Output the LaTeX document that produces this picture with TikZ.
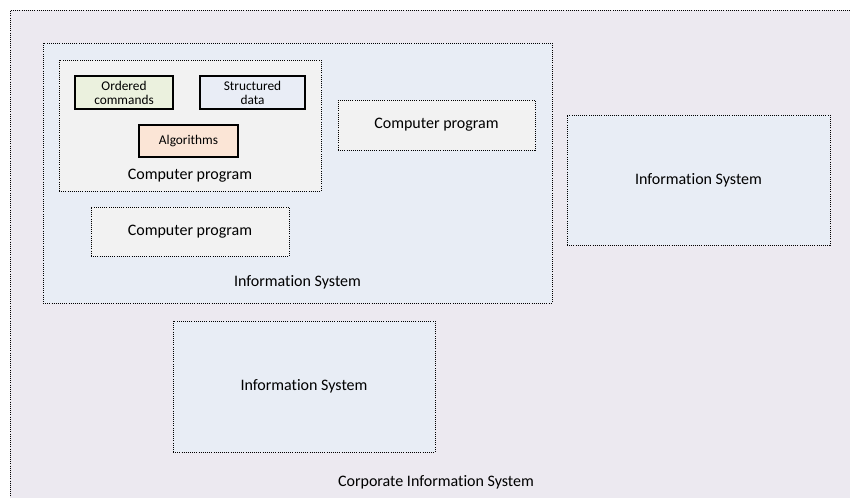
\documentclass[tikz,border=0pt]{standalone}
\usepackage{fontspec}
\setmainfont[Ligatures=NoCommon]{Carlito}
\usetikzlibrary{positioning}
\definecolor{corpFill}{RGB}{236,233,240}
\definecolor{isFill}{RGB}{232,237,245}
\definecolor{progFill}{RGB}{242,242,242}
\definecolor{cmdFill}{RGB}{235,241,222}
\definecolor{dataFill}{RGB}{233,237,246}
\definecolor{algFill}{RGB}{251,229,214}

\begin{document}
\begin{tikzpicture}[x=0.75pt,y=-0.75pt,font=\fontsize{12}{14}\selectfont,every node/.style=rectangle,
    container/.style={draw, densely dotted, line width=0.6pt, inner sep=0pt},
    corporate/.style={container, fill=corpFill},
    infoSys/.style={container, fill=isFill},
    program/.style={container, fill=progFill},
    element/.style={draw, solid, line width=1.1pt, inner sep=0pt, align=center, font=\fontsize{10}{10.5}\selectfont},
    ]
    \useasboundingbox (0,0) rectangle (850,497);
    \clip (0,0) rectangle (850,497);

    \node[corporate, minimum width=860*0.75pt, minimum height=500*0.75pt, anchor=north west] (corp) at (10,10) {};
    \node[infoSys, minimum width=509*0.75pt, minimum height=260*0.75pt] (isMain) at (297.5,173) {};
    \node[program, minimum width=262*0.75pt, minimum height=131*0.75pt] (cpMain) at (190,125.5) {};

    \node[element, fill=cmdFill, minimum width=98*0.75pt, minimum height=33*0.75pt] (commands) at (124,92.5) {Ordered\\commands};
    \node[element, fill=dataFill, minimum width=105*0.75pt, minimum height=33*0.75pt] (data) at (252.5,92.5) {Structured\\data};
    \node[element, fill=algFill, minimum width=99*0.75pt, minimum height=32*0.75pt] (algorithms) at (188.5,141) {Algorithms};
    \node[above=3pt of cpMain.south] (cpMainLabel) {Computer program};

    \node[program, minimum width=197*0.75pt, minimum height=50*0.75pt] (cpRight) at (436.5,125) {Computer program};
    \node[program, minimum width=198*0.75pt, minimum height=49*0.75pt] (cpLow) at (190,231.5) {Computer program};
    \node[above=7pt of isMain.south] (isMainLabel) {Information System};

    \node[infoSys, minimum width=263*0.75pt, minimum height=130*0.75pt] (isRight) at (698.5,180) {Information System};
    \node[infoSys, minimum width=262*0.75pt, minimum height=131*0.75pt] (isLow) at (304,386.5) {Information System};

    \node (corpLabel) at (436,482) {Corporate Information System};
  \end{tikzpicture}
\end{document}
